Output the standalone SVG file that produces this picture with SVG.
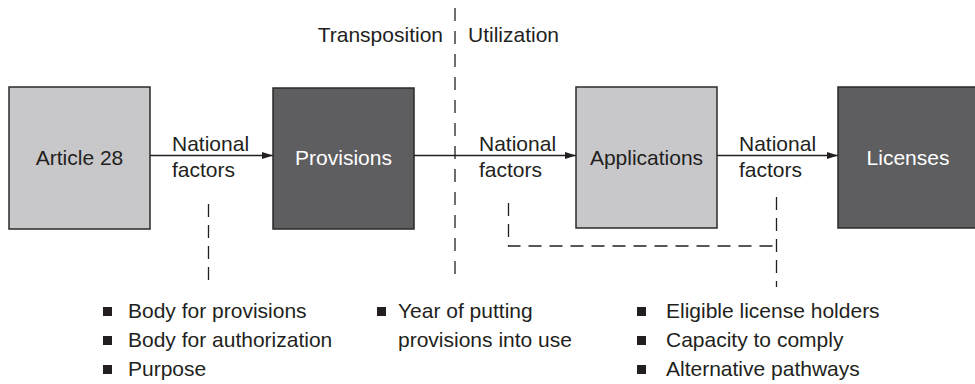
<svg xmlns="http://www.w3.org/2000/svg" width="975" height="384" viewBox="0 0 975 384">
<defs>
<style>
text{font-family:"Liberation Sans",Arial,sans-serif;font-size:21px;fill:#231f20}
.light{fill:#c8c8ca;stroke:#2a2a2a;stroke-width:1.5}
.dark{fill:#5e5e60;stroke:#2a2a2a;stroke-width:1.5}
.wt{fill:#ffffff}
.arrow{stroke:#231f20;stroke-width:1.4;fill:none;marker-end:url(#ah)}
.dash{stroke:#231f20;stroke-width:1.3;fill:none;stroke-dasharray:13 8}
.bul{fill:#231f20}
</style>
<marker id="ah" viewBox="0 0 11 7" refX="11" refY="3.5" markerWidth="11" markerHeight="7" markerUnits="userSpaceOnUse" orient="auto">
<path d="M0,0 L11,3.5 L0,7 z" fill="#231f20"/>
</marker>
</defs>
<g id="connectors">
<line class="arrow" x1="150" y1="155.5" x2="273" y2="155.5"/>
<line class="arrow" x1="414" y1="155.5" x2="576" y2="155.5"/>
<line class="arrow" x1="717" y1="155.5" x2="838" y2="155.5"/>
<line class="dash" x1="455" y1="8" x2="455" y2="277" style="stroke-dasharray:13 10"/>
<line class="dash" x1="208.5" y1="204" x2="208.5" y2="280"/>
<path class="dash" d="M508.5,203 V246 H776"/>
<line class="dash" x1="776.5" y1="197" x2="776.5" y2="287"/>
</g>
<g id="phase-labels">
<text x="443" y="42" text-anchor="end">Transposition</text>
<text x="468" y="42">Utilization</text>
</g>
<g id="article28">
<rect class="light" x="9" y="87" width="141" height="142"/>
<text x="79.5" y="165" text-anchor="middle">Article 28</text>
</g>
<g id="provisions">
<rect class="dark" x="273" y="88" width="141" height="141"/>
<text class="wt" x="343.5" y="165" text-anchor="middle">Provisions</text>
</g>
<g id="applications">
<rect class="light" x="576" y="87" width="141" height="141"/>
<text x="646.5" y="165" text-anchor="middle">Applications</text>
</g>
<g id="licenses">
<rect class="dark" x="838" y="87" width="141" height="141"/>
<text class="wt" x="908" y="165" text-anchor="middle">Licenses</text>
</g>
<g id="label-national-1">
<text x="172" y="151">National</text>
<text x="172" y="177">factors</text>
</g>
<g id="label-national-2">
<text x="479" y="151">National</text>
<text x="479" y="177">factors</text>
</g>
<g id="label-national-3">
<text x="739" y="151">National</text>
<text x="739" y="177">factors</text>
</g>
<g id="list-transposition">
<rect class="bul" x="103" y="307" width="9" height="9"/>
<text x="128" y="318">Body for provisions</text>
<rect class="bul" x="103" y="336" width="9" height="9"/>
<text x="128" y="347">Body for authorization</text>
<rect class="bul" x="103" y="365" width="9" height="9"/>
<text x="128" y="376">Purpose</text>
</g>
<g id="list-timing">
<rect class="bul" x="377" y="307" width="9" height="9"/>
<text x="398" y="318">Year of putting</text>
<text x="398" y="347">provisions into use</text>
</g>
<g id="list-utilization">
<rect class="bul" x="637" y="307" width="9" height="9"/>
<text x="666" y="318">Eligible license holders</text>
<rect class="bul" x="637" y="336" width="9" height="9"/>
<text x="666" y="347">Capacity to comply</text>
<rect class="bul" x="637" y="365" width="9" height="9"/>
<text x="666" y="376">Alternative pathways</text>
</g>
</svg>
